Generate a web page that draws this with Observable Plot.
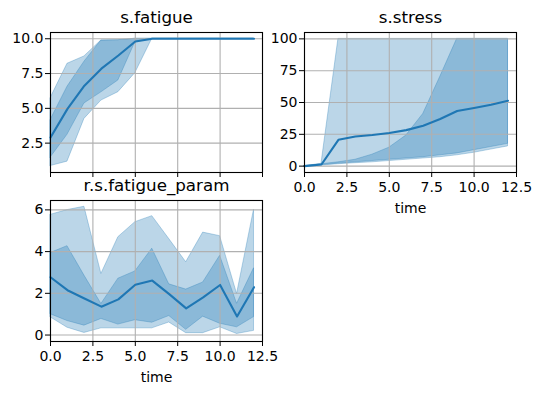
<!DOCTYPE html>
<html><head><meta charset="utf-8">
<script src="https://cdn.jsdelivr.net/npm/d3@7"></script>
<script src="https://cdn.jsdelivr.net/npm/@observablehq/plot@0.6"></script>
<style>
html,body{margin:0;padding:0;background:#fff;}
#fig{position:relative;width:540px;height:393px;overflow:hidden;font-family:"DejaVu Sans",sans-serif;background:#fff;}
#fig svg{position:absolute;}
</style></head><body><div id="fig"></div>
<script>
const time = [0,1,2,3,4,5,6,7,8,9,10,11,12];
const xTicks = [0,2.5,5,7.5,10,12.5];

// s.fatigue
const fatigueMean    = [2.9, 4.96, 6.63, 7.85, 8.8, 9.8, 10, 10, 10, 10, 10, 10, 10];
const fatigueOuterLo = [0.85, 1.17, 4.24, 5.56, 6.16, 7.53, 10, 10, 10, 10, 10, 10, 10];
const fatigueOuterHi = [5.72, 8.2, 8.73, 9.88, 9.9, 10, 10, 10, 10, 10, 10, 10, 10];
const fatigueInnerLo = [1.45, 3.1, 5.35, 6.15, 7.0, 9.75, 10, 10, 10, 10, 10, 10, 10];
const fatigueInnerHi = [4.15, 6.55, 8.35, 9.88, 9.9, 10, 10, 10, 10, 10, 10, 10, 10];
const fatigueYTicks = [2.5, 5, 7.5, 10];

// s.stress
const stressMean    = [0, 1.3, 20.7, 23.3, 24.5, 26, 28.3, 31.8, 37, 43.3, 45.7, 48.3, 51.4];
const stressOuterLo = [0, 0.5, 1.5, 2.3, 3, 4, 5, 6, 7, 8.5, 10.5, 13, 15.5];
const stressOuterHi = [0, 1.8, 100, 100, 100, 100, 100, 100, 100, 100, 100, 100, 100];
const stressInnerLo = [0, 0.8, 2, 3, 4, 5, 6, 7, 8.5, 10, 12.5, 15, 17.5];
const stressInnerHi = [0, 1.5, 3, 5, 9, 14.5, 24, 41, 70, 100, 100, 100, 100];
const stressYTicks = [0, 25, 50, 75, 100];

// r.s.fatigue_param
const paramMean    = [2.77, 2.15, 1.75, 1.36, 1.71, 2.41, 2.61, 1.96, 1.28, 1.81, 2.4, 0.89, 2.29];
const paramOuterLo = [0.85, 0.35, 0.1, 0.32, 0.32, 0.32, 0.32, 0.6, 0.09, 0.09, 0.37, 0.05, 0.2];
const paramOuterHi = [5.76, 5.99, 6.15, 2.93, 4.69, 5.41, 5.7, 4.6, 3.49, 4.91, 4.74, 1.97, 6.01];
const paramInnerLo = [1.0, 0.67, 0.45, 0.77, 0.5, 0.71, 0.59, 0.91, 0.25, 0.88, 0.54, 0.37, 0.86];
const paramInnerHi = [3.93, 4.26, 2.85, 1.49, 2.7, 3.05, 4.14, 2.43, 2.18, 2.52, 3.8, 1.5, 3.2];
const paramYTicks = [0, 2, 4, 6];

const C0 = "#1f77b4";
const fig = document.getElementById("fig");

function panel(o) {
  const rows = time.map((t, i) => ({t, m: o.mean[i], ol: o.outerLo[i], oh: o.outerHi[i], il: o.innerLo[i], ih: o.innerHi[i]}));
  const marks = [
    Plot.areaY(rows, {x: "t", y1: "ol", y2: "oh", fill: C0, fillOpacity: 0.3, stroke: C0, strokeOpacity: 0.3, strokeWidth: 1}),
    Plot.areaY(rows, {x: "t", y1: "il", y2: "ih", fill: C0, fillOpacity: 0.3, stroke: C0, strokeOpacity: 0.3, strokeWidth: 1}),
    Plot.gridX(xTicks, {stroke: "#b0b0b0", strokeOpacity: 1, strokeWidth: 1.1}),
    Plot.gridY(o.yTicks, {stroke: "#b0b0b0", strokeOpacity: 1, strokeWidth: 1.1}),
    Plot.lineY(rows, {x: "t", y: "m", stroke: C0, strokeWidth: 2.1}),
    Plot.frame({stroke: "black", strokeWidth: 1.1}),
    Plot.axisY(o.yTicks, {tickFormat: o.yFormat, tickSize: 5, tickPadding: 2, fontSize: 14, label: null, fill: "black"}),
    Plot.axisX(xTicks, {tickFormat: o.xLabels ? ".1f" : () => "", tickSize: 5, tickPadding: 5, fontSize: 14, label: null, fill: "black"}),
    Plot.text([o.title], {frameAnchor: "top", dy: -9.5, lineAnchor: "bottom", fontSize: 16.7, fill: "black"})
  ];
  if (o.xLabels) marks.push(Plot.text(["time"], {frameAnchor: "bottom", dy: 40.5, lineAnchor: "bottom", fontSize: 14, fill: "black"}));
  const svg = Plot.plot({
    width: o.width, height: o.height,
    marginLeft: o.ml, marginRight: o.mr, marginTop: o.mt, marginBottom: o.mb,
    x: {domain: [0, 12.5], axis: null},
    y: {domain: o.yDomain, axis: null},
    style: {fontFamily: "DejaVu Sans", background: "transparent", overflow: "visible", color: "black"},
    marks
  });
  svg.style.left = o.left + "px";
  svg.style.top = o.top + "px";
  fig.appendChild(svg);
}

panel({title: "s.fatigue", mean: fatigueMean, outerLo: fatigueOuterLo, outerHi: fatigueOuterHi, innerLo: fatigueInnerLo, innerHi: fatigueInnerHi,
  yDomain: [0.39, 10.45], yTicks: fatigueYTicks, yFormat: ".1f", xLabels: false,
  left: 0, top: 0, width: 270, height: 200, ml: 50, mr: 8, mt: 32, mb: 28});
panel({title: "s.stress", mean: stressMean, outerLo: stressOuterLo, outerHi: stressOuterHi, innerLo: stressInnerLo, innerHi: stressInnerHi,
  yDomain: [-5, 105], yTicks: stressYTicks, yFormat: "d", xLabels: true,
  left: 270, top: 0, width: 270, height: 220, ml: 34, mr: 24, mt: 32, mb: 48});
panel({title: "r.s.fatigue_param", mean: paramMean, outerLo: paramOuterLo, outerHi: paramOuterHi, innerLo: paramInnerLo, innerHi: paramInnerHi,
  yDomain: [-0.31, 6.45], yTicks: paramYTicks, yFormat: "d", xLabels: true,
  left: 0, top: 180, width: 270, height: 213, ml: 50, mr: 8, mt: 20, mb: 52});
</script></body></html>
